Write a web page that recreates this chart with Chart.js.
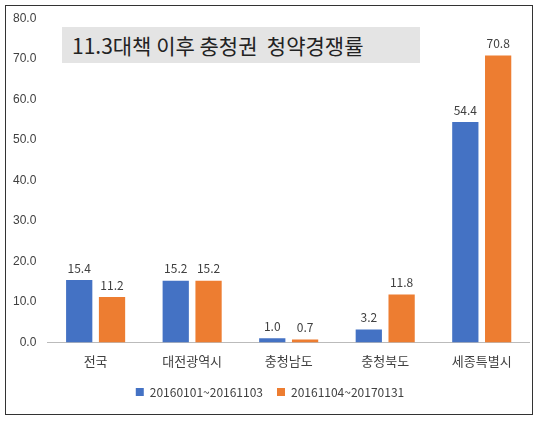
<!DOCTYPE html><html><head><meta charset="utf-8">
<script src="https://cdn.jsdelivr.net/npm/chart.js@4"></script>
<style>
body{margin:0;background:#fff;width:540px;height:424px;position:relative;font-family:"Noto Sans CJK KR",sans-serif}
#box{position:absolute;left:5px;top:5px;width:526px;height:408px;border:1px solid #333;}
#wrap{position:absolute;left:8px;top:8px;width:522px;height:400px}
#title{position:absolute;left:62px;top:27px;width:358px;height:36px;background:#e4e4e4;color:#222;font-size:21px;line-height:36px;padding-left:10px;box-sizing:border-box;font-family:"Noto Sans CJK KR";white-space:pre}
</style></head><body>
<div id="box"></div>
<div id="wrap"><canvas id="c"></canvas></div>
<div id="title">11.3대책 이후 충청권  청약경쟁률</div>
<script>
const categories=["전국","대전광역시","충청남도","충청북도","세종특별시"];
const seriesNames=["20160101~20161103","20161104~20170131"];
const series1=[15.4,15.2,1.0,3.2,54.4];
const series2=[11.2,15.2,0.7,11.8,70.8];
const labelsPlugin={id:'lbl',afterDatasetsDraw(ch){const ctx=ch.ctx;ctx.save();ctx.font='12px "Noto Sans CJK KR"';ctx.fillStyle='#404040';ctx.textAlign='center';
ch.data.datasets.forEach((d,i)=>{ch.getDatasetMeta(i).data.forEach((b,j)=>{ctx.fillText(d.data[j].toFixed(1),b.x,b.y-12);});});ctx.restore();}};
new Chart(document.getElementById('c'),{type:'bar',
data:{labels:categories,datasets:[
{label:seriesNames[0],data:series1,backgroundColor:'#4472C4'},
{label:seriesNames[1],data:series2,backgroundColor:'#ED7D31'}]},
options:{responsive:true,maintainAspectRatio:false,animation:false,
layout:{padding:{left:2,right:0,top:2,bottom:0}},
datasets:{bar:{categoryPercentage:0.68,barPercentage:0.8}},
plugins:{legend:{position:'bottom',labels:{boxWidth:8,boxHeight:8,font:{size:12,family:'Noto Sans CJK KR'},color:'#404040',padding:14}},tooltip:{enabled:false}},
scales:{x:{grid:{display:false},border:{color:'#bbb'},ticks:{color:'#404040',font:{size:13,family:'Noto Sans CJK KR'}}},
y:{min:0,max:80,ticks:{stepSize:10,color:'#404040',font:{size:12},callback:v=>v.toFixed(1)},grid:{display:false},border:{display:false}}}},
plugins:[labelsPlugin]});
</script></body></html>
